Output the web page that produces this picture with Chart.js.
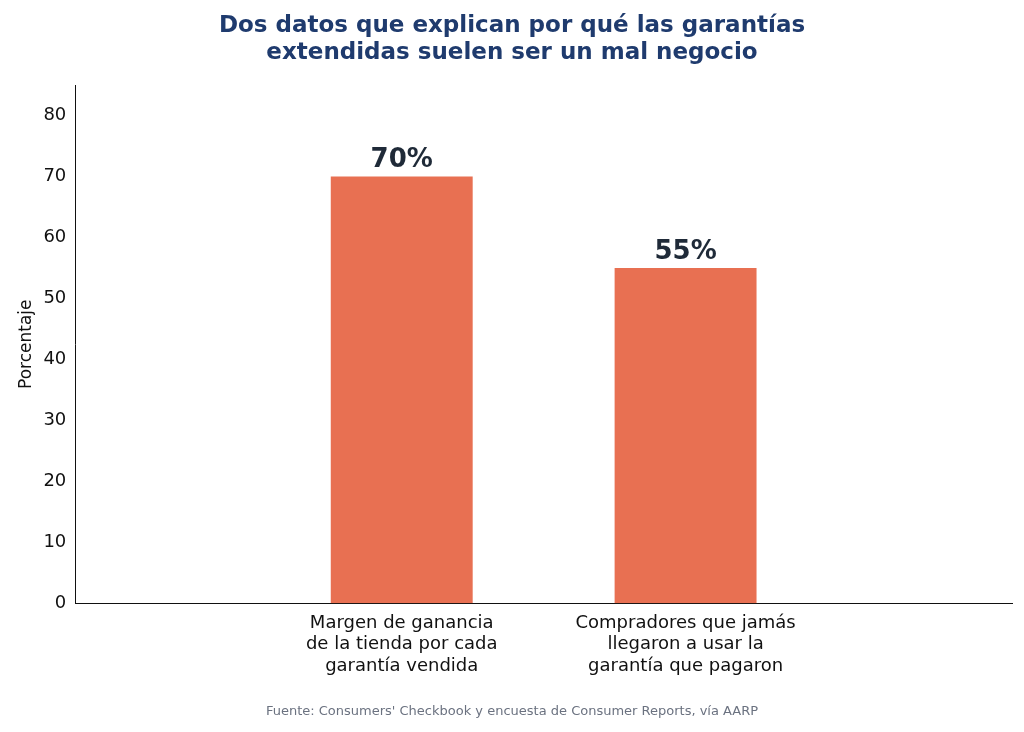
<!DOCTYPE html>
<html>
<head>
<meta charset="utf-8">
<script src="https://cdn.jsdelivr.net/npm/chart.js@4"></script>
<style>
  body { margin: 0; background: #fff; }
  #wrap { width: 1024px; height: 732px; }
</style>
</head>
<body>
<div id="wrap"><canvas id="barChart"></canvas></div>
<script>
const categories = [
    ['Margen de ganancia', 'de la tienda por cada', 'garantía vendida'],
    ['Compradores que jamás', 'llegaron a usar la', 'garantía que pagaron']
];
const values = [70, 55];
const yTicks = [0, 10, 20, 30, 40, 50, 60, 70, 80];

const valueLabels = {
    id: 'valueLabels',
    afterDatasetsDraw(chart) {
        const c = chart.ctx;
        const meta = chart.getDatasetMeta(0);
        c.save();
        c.font = 'bold 26px "DejaVu Sans"';
        c.fillStyle = '#1f2a38';
        c.textAlign = 'center';
        c.textBaseline = 'bottom';
        meta.data.forEach((bar, i) => {
            c.fillText(values[i] + '%', bar.x, bar.y - 3);
        });
        c.font = '13px "DejaVu Sans"';
        c.fillStyle = '#6b7280';
        c.textBaseline = 'middle';
        c.fillText("Fuente: Consumers' Checkbook y encuesta de Consumer Reports, vía AARP", 512, 712);
        c.restore();
    }
};

Chart.defaults.font.family = '"DejaVu Sans"';
Chart.defaults.color = '#111';

const ctx = document.getElementById('barChart').getContext('2d');
const myChart = new Chart(ctx, {
    type: 'bar',
    data: {
        datasets: [{
            label: 'Porcentaje',
            data: values.map((v, i) => ({ x: i, y: v })),
            backgroundColor: '#e87052',
            barPercentage: 0.5,
            categoryPercentage: 1
        }]
    },
    options: {
        responsive: true,
        maintainAspectRatio: false,
        animation: false,
        layout: { padding: { left: 12, right: 12, bottom: 52 } },
        plugins: {
            legend: { display: false },
            tooltip: { enabled: false },
            title: {
                display: true,
                text: ['Dos datos que explican por qué las garantías', 'extendidas suelen ser un mal negocio'],
                color: '#1f3b6e',
                font: { size: 23, weight: 'bold' },
                padding: { top: 12, bottom: 18 }
            }
        },
        scales: {
            x: {
                type: 'linear',
                min: -0.325,
                max: 1.325,
                afterBuildTicks(axis) { axis.ticks = categories.map((c, i) => ({ value: i })); },
                grid: { display: false, drawTicks: true, tickLength: 6 },
                border: { color: '#111' },
                ticks: { font: { size: 18 }, color: '#111', maxRotation: 0, autoSkip: false,
                    callback: v => categories[v] }
            },
            y: {
                min: 0,
                max: 85,
                afterBuildTicks(axis) { axis.ticks = yTicks.map(v => ({ value: v })); },
                grid: { display: false, drawTicks: true, tickLength: 6 },
                border: { color: '#111' },
                ticks: { font: { size: 18 }, color: '#111' },
                title: { display: true, text: 'Porcentaje', font: { size: 17 }, color: '#111' }
            }
        }
    },
    plugins: [valueLabels]
});
</script>
</body>
</html>
